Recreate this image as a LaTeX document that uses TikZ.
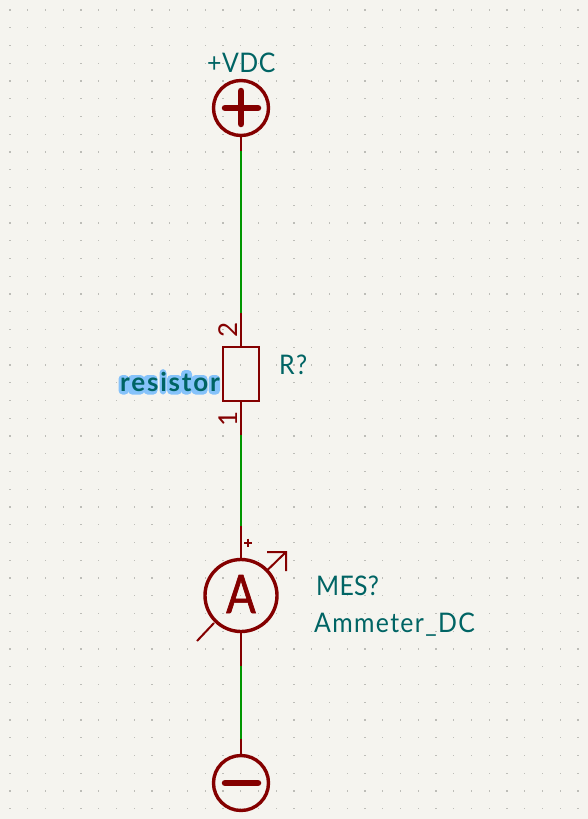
\documentclass[tikz,border=0pt]{standalone}
\usepackage{fontspec}
\setmainfont{Lato}
\newfontfamily\lblfont[LetterSpace=5,FakeStretch=0.92]{Lato}
\newfontfamily\lblmid[LetterSpace=2,FakeStretch=0.92]{Lato}
\newfontfamily\lblnarrow[LetterSpace=1,FakeStretch=0.92]{Lato}
\newfontfamily\bigA[FakeStretch=0.82,FakeBold=1.2]{Lato}
\newfontfamily\resfont[LetterSpace=7]{Lato}
\definecolor{paper}{HTML}{F5F4EF}
\definecolor{griddot}{HTML}{BDBDB8}
\definecolor{sym}{HTML}{840000}
\definecolor{wirec}{HTML}{009600}
\definecolor{lbl}{HTML}{006464}
\definecolor{halo}{HTML}{85C2FA}
\tikzset{
  symline/.style={draw=sym,line width=2pt},
  symthick/.style={draw=sym,line width=3.4pt},
  wireline/.style={draw=wirec,line width=2pt},
  txt/.style={text=lbl,inner sep=0pt,anchor=base west,font=\lblfont\fontsize{27}{27}\selectfont},
  pinnum/.style={text=sym,inner sep=0pt,font=\fontsize{26}{26}\selectfont,rotate=90},
  halobox/.style={fill=halo,rounded corners=4pt},
}
\begin{document}
\begin{tikzpicture}[x=1pt,y=-1pt]
\useasboundingbox (0,0) rectangle (588,819);
\fill[paper] (0,0) rectangle (588,819);
\foreach \i in {0,...,32}{\foreach \j in {0,...,45}{
  \fill[griddot] ({10+\i*17.75-0.55},{10+\j*17.75-0.55}) rectangle ++(1.1,1.1);
}}
% connection points
\coordinate (ptop) at (241,151);
\coordinate (pbot) at (241,739);
\coordinate (rtop) at (241,313);
\coordinate (rbot) at (241,435);
\coordinate (mtop) at (241,526);
\coordinate (mbot) at (241,666);
% wires
\draw[wireline] (ptop) -- (rtop);
\draw[wireline] (rbot) -- (mtop);
\draw[wireline] (mbot) -- (pbot);
% +VDC symbol
\node[circle,symthick,minimum size=55pt,inner sep=0pt] (vplus) at (241,108) {};
\draw[sym,line width=6.5pt,line cap=round] (225,108) -- (258,108);
\draw[sym,line width=6.5pt,line cap=round] (241,91) -- (241,124);
\draw[symline] (vplus.south) -- (ptop);
\node[txt,font=\lblmid\fontsize{27}{27}\selectfont] (tvdc) at (207,72) {+VDC};
% minus symbol
\node[circle,symthick,minimum size=55pt,inner sep=0pt] (vminus) at (241,783) {};
\draw[sym,line width=6.5pt,line cap=round] (225,783) -- (258,783);
\draw[symline] (vminus.north) -- (pbot);
% resistor
\node[rectangle,symline,minimum width=36pt,minimum height=54pt,inner sep=0pt] (res) at (241,374) {};
\draw[symline] (rtop) -- (res.north);
\draw[symline] (res.south) -- (rbot);
\node[pinnum] (p2) at (228,330) {2};
\node[pinnum] (p1) at (228,418.5) {1};
\node[txt] (tr) at (279,374) {R?};
% halo of the label
\fill[halobox] (118.5,375) rectangle (129,394.5);
\fill[halobox] (128,375) rectangle (144.5,394.5);
\fill[halobox] (143.5,375) rectangle (157.5,394.5);
\fill[halobox] (159.5,369) rectangle (166.5,394.5);
\fill[halobox] (167,375) rectangle (182,394.5);
\fill[halobox] (181,370) rectangle (192,394.5);
\fill[halobox] (191.5,375) rectangle (207.5,394.5);
\fill[halobox] (208.5,375) rectangle (220,394.5);
\node[inner sep=0pt,anchor=base west,text=lbl,font=\resfont\bfseries\fontsize{26}{26}\selectfont] (tres) at (120,391) {resistor};
% ammeter
\node[circle,symthick,minimum size=72pt,inner sep=0pt] (amm) at (241,595.5) {};
\node[inner sep=0pt,anchor=base,text=sym,font=\bigA\fontsize{53}{53}\selectfont] (ta) at (241,613) {A};
\draw[symline] (mtop) -- (amm.north);
\draw[symline] (amm.south) -- (mbot);
\draw[symline] (248.3,538.7) -- (248.3,546.7) (244.3,542.7) -- (252.3,542.7);
\draw[symline] (267.5,570) -- (286,552) (267,552) -- (286,552) -- (286,571);
\draw[symline] (214,623) -- (197,641);
\node[txt,font=\lblnarrow\fontsize{27}{27}\selectfont] (tmes) at (316,595) {MES?};
\node[txt] (tamm) at (314,632) {Ammeter\_DC};
\end{tikzpicture}
\end{document}
